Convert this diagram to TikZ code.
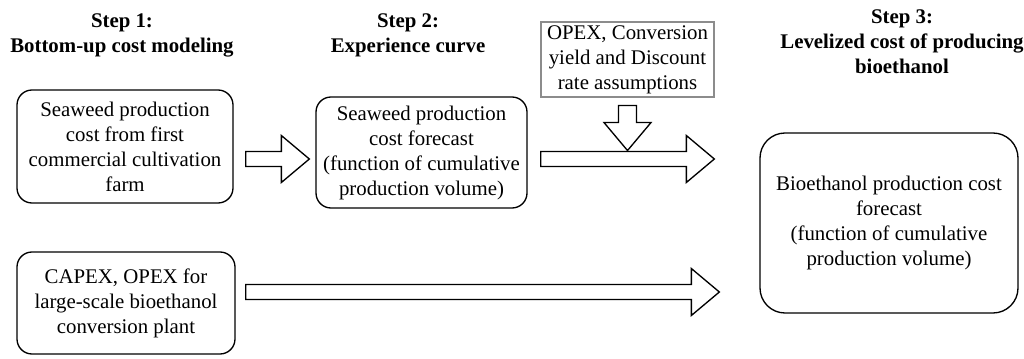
\documentclass[tikz,border=0pt]{standalone}
\usepackage{fontspec}
\setmainfont{Liberation Serif}
\usetikzlibrary{calc}
\def\boxfont{\fontsize{12.5}{15}\selectfont}
\tikzset{
	costbox/.style={draw, line width=0.8pt, rounded corners=9pt, align=center, inner sep=2pt, font=\boxfont},
	inputbox/.style={draw=black!45, line width=0.7pt, align=center, inner sep=2pt, font=\boxfont},
	steptitle/.style={align=center, font=\boxfont\bfseries},
	rightblock/.style={draw, fill=white, line width=0.8pt, line join=miter,
		to path={let \p1=(\tikztostart), \p2=(\tikztotarget) in
			(\x1,\y1-4.5pt) -- (\x2-16.8pt,\y1-4.5pt) -- (\x2-16.8pt,\y1-14.1pt) -- (\x2,\y1)
			-- (\x2-16.8pt,\y1+14.1pt) -- (\x2-16.8pt,\y1+4.5pt) -- (\x1,\y1+4.5pt) -- cycle}},
	downblock/.style={draw, fill=white, line width=0.8pt, line join=miter,
		to path={let \p1=(\tikztostart), \p2=(\tikztotarget) in
			(\x1-5.4pt,\y1) -- (\x1-5.4pt,\y2+16.8pt) -- (\x1-14.1pt,\y2+16.8pt) -- (\x1,\y2)
			-- (\x1+14.1pt,\y2+16.8pt) -- (\x1+5.4pt,\y2+16.8pt) -- (\x1+5.4pt,\y1) -- cycle}}
}

\begin{document}
\begin{tikzpicture}[x=0.6pt, y=0.6pt]
	%%%%% START %%%%%
	\useasboundingbox (0, 0) rectangle (1024, -358);
	
	\node[steptitle] (step1) at (122, -35) {Step 1:\\Bottom-up cost modeling};
	\node[steptitle] (step2) at (408, -35) {Step 2:\\Experience curve};
	\node[steptitle] (step3) at (902, -42) {Step 3:\\Levelized cost of producing\\bioethanol};
	
	\node[costbox, minimum width=129.6pt, minimum height=67.8pt] (farm) at (125, -146.5)
		{Seaweed production\\cost from first\\commercial cultivation\\farm};
	\node[costbox, minimum width=126.6pt, minimum height=66.6pt] (curve) at (421.5, -152.5)
		{Seaweed production\\cost forecast\\(function of cumulative\\production volume)};
	\node[inputbox, minimum width=103.8pt, minimum height=39pt] (opex) at (627.5, -59.5)
		{OPEX, Conversion\\yield and Discount\\rate assumptions};
	\node[costbox, rounded corners=15pt, minimum width=154.8pt, minimum height=108pt] (lcoe) at (889, -223)
		{Bioethanol production cost\\forecast\\(function of cumulative\\production volume)};
	\node[costbox, minimum width=130.8pt, minimum height=61.2pt] (plant) at (126, -303)
		{CAPEX, OPEX for\\large-scale bioethanol\\conversion plant};
	
	% block arrows
	\draw[rightblock] ([shift={(12,-12.5)}]farm.east) to ([xshift=-3.6pt]curve.west);
	\draw[rightblock] ([shift={(13,-6.5)}]curve.east) to ([xshift=-27pt]lcoe.west);
	\draw[downblock] ([yshift=-4.8pt]opex.south) to ([yshift=-31.8pt]opex.south);
	\draw[rightblock] ([shift={(10,11)}]plant.east) to ([xshift=-24pt]lcoe.west);
	
	%%%%% END %%%%%
\end{tikzpicture}
\end{document}
